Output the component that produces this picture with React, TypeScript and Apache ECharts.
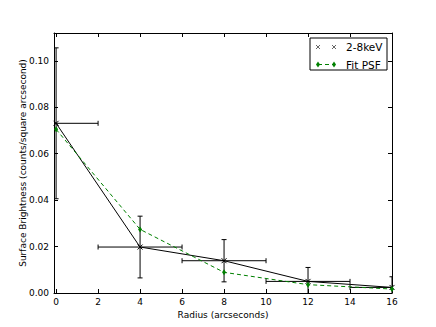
import React, { useEffect, useRef } from 'react';
import * as echarts from 'echarts';

const radius = [0, 4, 8, 12, 16];
const radiusErr = [2, 2, 2, 2, 2];
const brightness = [0.0731, 0.0198, 0.0139, 0.005, 0.0024];
const brightnessErr = [0.0325, 0.0133, 0.0091, 0.006, 0.0046];
const psfFit = [0.0705, 0.0274, 0.0089, 0.0036, 0.0017];
const xTicks = [0, 2, 4, 6, 8, 10, 12, 14, 16];
const yTicks = [0, 0.02, 0.04, 0.06, 0.08, 0.1];
const seriesNames = ['2-8keV', 'Fit PSF'];

const FONT = 'DejaVu Sans';
const GREEN = '#008000';

export default function App() {
  const ref = useRef<HTMLDivElement>(null);
  useEffect(() => {
    document.body.style.margin = '0';
    const chart = echarts.init(ref.current!, null, { renderer: 'svg' });
    const xBase = {
      type: 'value' as const,
      min: -0.1,
      max: 16,
      splitLine: { show: false },
      axisLine: { show: true, onZero: false, lineStyle: { color: '#000', width: 1 } },
      axisTick: { show: true, inside: true, length: 4, customValues: xTicks, lineStyle: { color: '#000' } },
    };
    const yBase = {
      type: 'value' as const,
      min: 0,
      max: 0.112,
      splitLine: { show: false },
      axisLine: { show: true, onZero: false, lineStyle: { color: '#000', width: 1 } },
      axisTick: { show: true, inside: true, length: 4, customValues: yTicks, lineStyle: { color: '#000' } },
    };
    const errData = radius.map((x, i) => [x, brightness[i], radiusErr[i], brightnessErr[i]]);
    const lx = 310, ly = 38;
    const r1 = ly + 9, r2 = ly + 26.5;
    chart.setOption({
      animation: false,
      grid: { left: 54, right: 44, top: 33, bottom: 34 },
      xAxis: [
        {
          ...xBase,
          position: 'bottom',
          name: 'Radius (arcseconds)',
          nameLocation: 'middle',
          nameGap: 17,
          nameMoveOverlap: false,
          nameTextStyle: { fontFamily: FONT, fontSize: 9, color: '#000' },
          axisLabel: { customValues: xTicks, fontFamily: FONT, fontSize: 9, color: '#000', margin: 4 },
        },
        { ...xBase, position: 'top', axisLabel: { show: false } },
      ],
      yAxis: [
        {
          ...yBase,
          position: 'left',
          name: 'Surface Brightness (counts/square arcsecond)',
          nameLocation: 'middle',
          nameGap: 27,
          nameMoveOverlap: false,
          nameTextStyle: { fontFamily: FONT, fontSize: 9, color: '#000' },
          axisLabel: {
            customValues: yTicks,
            fontFamily: FONT,
            fontSize: 9,
            color: '#000',
            margin: 5,
            formatter: (v: number) => v.toFixed(2),
          },
        },
        { ...yBase, position: 'right', axisLabel: { show: false } },
      ],
      series: [
        {
          type: 'custom',
          name: 'errors',
          clip: true,
          xAxisIndex: 0,
          yAxisIndex: 0,
          data: errData,
          encode: { x: 0, y: 1 },
          renderItem: (_p: any, api: any) => {
            const x = api.value(0), y = api.value(1), xe = api.value(2), ye = api.value(3);
            const l = api.coord([x - xe, y]);
            const r = api.coord([x + xe, y]);
            const t = api.coord([x, y + ye]);
            const b = api.coord([x, y - ye]);
            const c = 2.5;
            const style = { stroke: '#000', lineWidth: 1, fill: 'none' };
            const ln = (x1: number, y1: number, x2: number, y2: number) => ({
              type: 'line', shape: { x1, y1, x2, y2 }, style,
            });
            return {
              type: 'group',
              children: [
                ln(l[0], l[1], r[0], r[1]),
                ln(t[0], t[1], b[0], b[1]),
                ln(t[0] - c, t[1], t[0] + c, t[1]),
                ln(b[0] - c, b[1], b[0] + c, b[1]),
                ln(l[0], l[1] - c, l[0], l[1] + c),
                ln(r[0], r[1] - c, r[0], r[1] + c),
              ],
            };
          },
          z: 1,
        },
        {
          type: 'line',
          name: seriesNames[0],
          data: radius.map((x, i) => [x, brightness[i]]),
          lineStyle: { color: '#000', width: 1 },
          symbol: 'path://M0,0L10,10M10,0L0,10',
          symbolSize: 5,
          showSymbol: true,
          itemStyle: { color: 'none', borderColor: '#000', borderWidth: 1 },
          z: 2,
        },
        {
          type: 'line',
          name: seriesNames[1],
          data: radius.map((x, i) => [x, psfFit[i]]),
          lineStyle: { color: GREEN, width: 1, type: [4, 3] },
          symbol: 'diamond',
          symbolSize: [4, 6],
          showSymbol: true,
          itemStyle: { color: GREEN },
          z: 3,
        },
      ],
      graphic: [
        {
          type: 'rect',
          shape: { x: lx, y: ly, width: 77, height: 32 },
          style: { fill: '#fff', stroke: '#000', lineWidth: 1 },
          z: 10,
        },
        ...[lx + 8, lx + 24].flatMap((cx) => [
          { type: 'line', shape: { x1: cx - 2, y1: r1 - 2, x2: cx + 2, y2: r1 + 2 }, style: { stroke: '#666', lineWidth: 1 }, z: 11 },
          { type: 'line', shape: { x1: cx + 2, y1: r1 - 2, x2: cx - 2, y2: r1 + 2 }, style: { stroke: '#666', lineWidth: 1 }, z: 11 },
        ]),
        {
          type: 'line',
          shape: { x1: lx + 8, y1: r2, x2: lx + 24, y2: r2 },
          style: { stroke: GREEN, lineWidth: 1, lineDash: [4, 3] },
          z: 11,
        },
        ...[lx + 8, lx + 24].map((cx) => ({
          type: 'polygon',
          shape: { points: [[cx, r2 - 3], [cx + 2, r2], [cx, r2 + 3], [cx - 2, r2]] },
          style: { fill: GREEN },
          z: 12,
        })),
        {
          type: 'text',
          x: lx + 36,
          y: r1,
          style: { text: seriesNames[0], font: `10.5px "${FONT}"`, fill: '#000', verticalAlign: 'middle' },
          z: 12,
        },
        {
          type: 'text',
          x: lx + 36,
          y: r2,
          style: { text: seriesNames[1], font: `10.5px "${FONT}"`, fill: '#000', verticalAlign: 'middle' },
          z: 12,
        },
      ],
    });
    return () => chart.dispose();
  }, []);
  return <div ref={ref} style={{ width: 436, height: 327 }} />;
}
